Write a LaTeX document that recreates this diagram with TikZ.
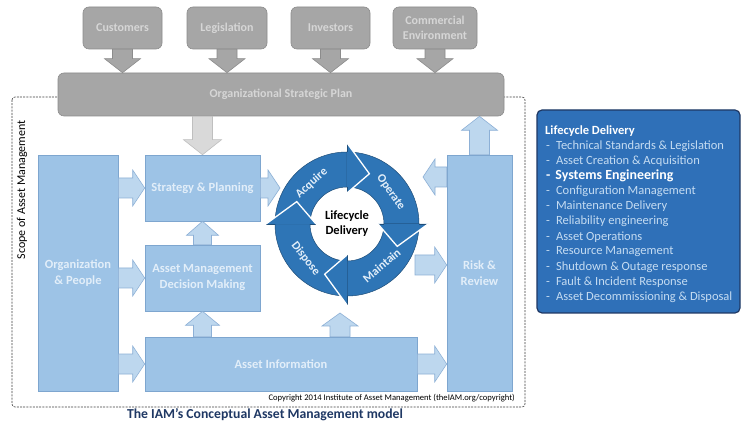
\documentclass[tikz,border=0pt]{standalone}
\usepackage{fontspec}
\setmainfont{Carlito}
\usetikzlibrary{calc}
\definecolor{gfill}{HTML}{A6A6A6}
\definecolor{gline}{HTML}{8C8C8C}
\definecolor{gtext}{HTML}{D6D6D6}
\definecolor{lgfill}{HTML}{D9D9D9}
\definecolor{lgline}{HTML}{BFBFBF}
\definecolor{bfill}{HTML}{9DC3E6}
\definecolor{bline}{HTML}{7EA6CF}
\definecolor{btext}{HTML}{E2EEF9}
\definecolor{afill}{HTML}{BDD7EE}
\definecolor{aline}{HTML}{8DB0D6}
\definecolor{cfill}{HTML}{2E75B6}
\definecolor{cline}{HTML}{1F4E79}
\definecolor{pfill}{HTML}{2F70B8}
\definecolor{pline}{HTML}{1F3864}
\definecolor{ptext}{HTML}{C5DCF2}
\definecolor{navy}{HTML}{1F3864}
\newcommand\barrow[6][]{%
  \coordinate (hb) at ($(#3)!#6!(#2)$);
  \draw[#1] ($(#2)!#4!90:(#3)$) -- ($(hb)!#4!90:(#3)$) -- ($(hb)!#5!90:(#3)$) -- (#3)
    -- ($(hb)!#5!-90:(#3)$) -- ($(hb)!#4!-90:(#3)$) -- ($(#2)!#4!-90:(#3)$) -- cycle;}
\tikzset{
  gbox/.style={draw=gline, fill=gfill, rounded corners=6pt, line width=0.6pt, text=gtext,
    font=\fontsize{12}{15}\selectfont\bfseries, align=center, inner sep=0pt},
  bbox/.style={draw=bline, fill=bfill, line width=0.6pt, text=btext,
    font=\fontsize{12.5}{16}\selectfont\bfseries, align=center, inner sep=0pt},
  garrow/.style={draw=gline, fill=gfill, line width=0.6pt},
  lgarrow/.style={draw=lgline, fill=lgfill, line width=0.6pt},
  barrowst/.style={draw=aline, fill=afill, line width=0.6pt},
  ring/.style={fill=cfill, draw=cline, line width=0.5pt},
  rlabel/.style={text=btext, font=\fontsize{12}{13}\selectfont\bfseries, inner sep=0pt},
  pitem/.style={anchor=west, text=ptext, font=\fontsize{12.5}{14}\selectfont, inner sep=0pt},
}
\begin{document}
\begin{tikzpicture}[x=1pt,y=1pt]
\useasboundingbox (0,0) rectangle (741,423);
\fill[white] (0,0) rectangle (741,423);
% scope
\draw[dash pattern=on 2pt off 1.2pt, line width=0.6pt, rounded corners=3pt, black!75] (12,326) rectangle (525,16);
\node[rotate=90, font=\fontsize{12}{14}\selectfont] (scope) at (22,233) {Scope of Asset Management};
% top boxes
\node[gbox, minimum width=79pt, minimum height=42pt] (cust) at (122.5,395) {Customers};
\node[gbox, minimum width=80pt, minimum height=42pt] (legi) at (227,395) {Legislation};
\node[gbox, minimum width=79pt, minimum height=42pt] (inve) at (330.5,395) {Investors};
\node[gbox, minimum width=84pt, minimum height=42pt] (comm) at (435,395) {Commercial\\Environment};
\node[gbox, minimum width=446pt, minimum height=43pt] (osp) at (281,328.5) {Organizational Strategic Plan};
\foreach \b in {cust,legi,inve,comm}{
  \coordinate (\b t) at (\b.south |- osp.north);
  \barrow[garrow]{\b.south}{\b t}{10pt}{18pt}{14pt}
}
% blue boxes
\node[bbox, minimum width=80pt, minimum height=236pt] (org) at (78,150) {Organization\\\& People};
\node[bbox, minimum width=115pt, minimum height=66pt] (sp) at (202.5,235) {Strategy \& Planning};
\node[bbox, minimum width=115pt, minimum height=66pt] (amdm) at (202.5,145) {Asset Management\\Decision Making};
\node[bbox, minimum width=272pt, minimum height=54pt] (ai) at (281,59) {Asset Information};
\node[bbox, minimum width=65pt, minimum height=236pt] (risk) at (479.5,150) {Risk \&\\Review};
% coordinates
\coordinate (ospd) at (sp.north |- osp.south);
\coordinate (rup) at (risk.north |- osp.south);
\coordinate (o1) at (org.east |- sp.west);
\coordinate (o2) at (org.east |- amdm.west);
\coordinate (o3) at (org.east |- ai.west);
\coordinate (aia) at (ai.north -| amdm.south);
\coordinate (cyin) at (280,235);
\coordinate (aic) at (340,110);
\coordinate (aib) at (aic |- ai.north);
\coordinate (cyout) at (415,158);
\coordinate (rin) at (risk.west |- cyout);
\coordinate (cyret) at (423,246);
\coordinate (rout) at (risk.west |- cyret);
\coordinate (air) at (risk.west |- ai.east);
% arrows
\barrow[lgarrow]{ospd}{sp.north}{10pt}{19pt}{15pt}
\barrow[barrowst]{risk.north}{rup}{10pt}{18pt}{14pt}
\barrow[barrowst]{o1}{sp.west}{10pt}{18pt}{12pt}
\barrow[barrowst]{o2}{amdm.west}{10pt}{18pt}{12pt}
\barrow[barrowst]{o3}{ai.west}{10pt}{18pt}{12pt}
\barrow[barrowst]{sp.east}{cyin}{10pt}{18pt}{12pt}
\barrow[barrowst]{amdm.north}{sp.south}{9pt}{16pt}{14pt}
\barrow[barrowst]{aia}{amdm.south}{9pt}{17pt}{14pt}
\barrow[barrowst]{aib}{aic}{10pt}{18pt}{13pt}
\barrow[barrowst]{cyout}{rin}{10pt}{18pt}{12pt}
\barrow[barrowst]{ai.east}{air}{10pt}{18pt}{12pt}
\barrow[barrowst]{rout}{cyret}{10pt}{18pt}{12pt}
% lifecycle ring
\coordinate (C) at (347,199);
\foreach \a in {180,90,0,-90}{
  \pgfmathsetmacro\e{\a-90}
  \draw[ring] ($(C)+(\a:72pt)$) arc[start angle=\a, end angle=\e, radius=72pt]
    -- ($(C)+(\e:37pt)$) arc[start angle=\e, end angle=\a, radius=37pt] -- cycle;
}
\foreach \a in {180,90,0,-90}{
  \pgfmathsetmacro\e{\a-90}
  \pgfmathsetmacro\t{\a-114}
  \fill[cfill] ($(C)+(\e:31pt)$) -- ($(C)+(\e:81pt)$) -- ($(C)+(\t:55pt)$) -- cycle;
  \draw[cline, line width=0.5pt] ($(C)+(\e:72pt)$) -- ($(C)+(\e:81pt)$);
  \draw[cline, line width=0.5pt] ($(C)+(\e:37pt)$) -- ($(C)+(\e:31pt)$);
  \draw[white, line width=1.3pt, line join=miter] ($(C)+(\e:31pt)$) -- ($(C)+(\t:55pt)$) -- ($(C)+(\e:81pt)$);
}
\node[rlabel, rotate=42] (acq) at ($(C)+(131:54pt)$) {Acquire};
\node[rlabel, rotate=-55] (ope) at ($(C)+(36:54pt)$) {Operate};
\node[rlabel, rotate=40] (mai) at ($(C)+(-50:54pt)$) {Maintain};
\node[rlabel, rotate=-52] (dis) at ($(C)+(-140:54pt)$) {Dispose};
\node[font=\fontsize{12.5}{15}\selectfont\bfseries, align=center, inner sep=0pt] (lc) at (C) {Lifecycle\\Delivery};
% copyright and title
\node[anchor=east, font=\fontsize{8.6}{10}\selectfont, inner sep=0pt] (copy) at (515,25) {Copyright 2014 Institute of Asset Management (theIAM.org/copyright)};
\node[text=navy, font=\fontsize{13.7}{15}\selectfont\bfseries, inner sep=0pt] (title) at (265,8) {The IAM’s Conceptual Asset Management model};
% panel
\draw[fill=pfill, draw=pline, line width=1.2pt, rounded corners=5pt] (537,313) rectangle (740,110);
\node[anchor=west, text=white, font=\fontsize{12.5}{14}\selectfont\bfseries, inner sep=0pt] (ph) at (545,292) {Lifecycle Delivery};
\foreach \i/\txt in {1/Technical Standards \& Legislation, 2/Asset Creation \& Acquisition,
  4/Configuration Management, 5/Maintenance Delivery, 6/Reliability engineering,
  7/Asset Operations, 8/Resource Management, 9/Shutdown \& Outage response,
  10/Fault \& Incident Response, 11/Asset Decommissioning \& Disposal}{
  \node[pitem] (pi\i) at (546,292-15.1*\i) {-\hspace{6pt}\txt};
}
\node[pitem, text=white, font=\fontsize{13.9}{15}\selectfont\bfseries] (pi3) at (546,292-15.1*3) {-\hspace{5pt}Systems Engineering};
\end{tikzpicture}
\end{document}
